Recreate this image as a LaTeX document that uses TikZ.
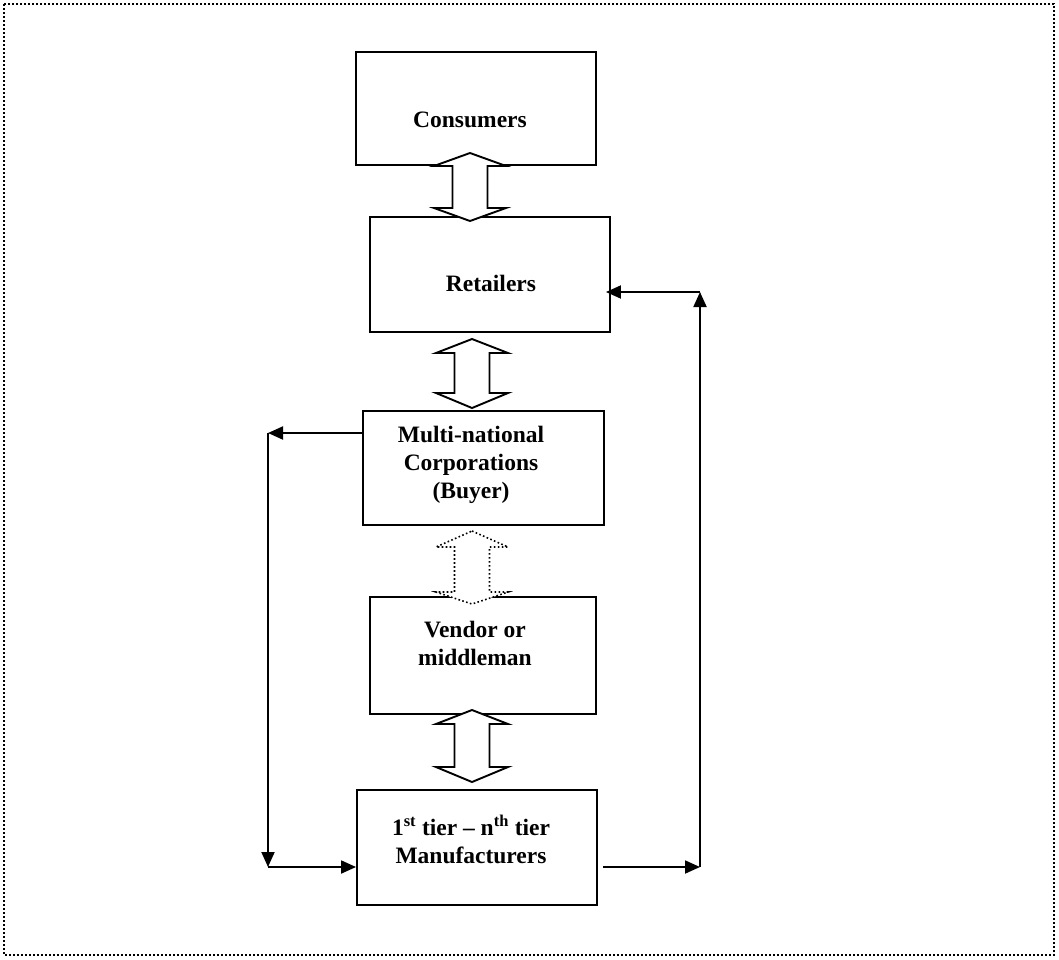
\documentclass[tikz,border=0pt]{standalone}
\usepackage{fontspec}
\setmainfont{Liberation Serif}
\usetikzlibrary{arrows.meta}
\newcommand\twoway[6][]{%
  \draw[dblarrow,#1] (#2,#3) -- (#2+36,#4) -- (#2+17.5,#4) -- (#2+17.5,#5) -- (#2+36,#5) -- (#2,#6)
    -- (#2-36,#5) -- (#2-17.5,#5) -- (#2-17.5,#4) -- (#2-36,#4) -- cycle;}
\tikzset{
  box/.style={draw, rectangle, line width=1.9pt, inner sep=0pt, fill=white},
  txt/.style={font=\fontsize{23.5}{28}\selectfont\bfseries, align=center, inner sep=0pt},
  dblarrow/.style={draw, line width=1.9pt, fill=white, line join=miter},
  dotarrow/.style={line width=1.6pt, dash pattern=on 1.6pt off 2.4pt},
  conn/.style={line width=1.9pt, -{Triangle[length=15pt,width=13pt]}},
  frame/.style={line width=1.6pt, dash pattern=on 2pt off 2pt}
}
\begin{document}
\begin{tikzpicture}[x=1pt,y=-1pt]
\useasboundingbox (0,0) rectangle (1059,959);
\draw[frame] (4,4) rectangle (1054,955);
% boxes
\node[box, minimum width=240pt, minimum height=113pt] (con) at (476,108.5) {};
\node[box, minimum width=240pt, minimum height=115pt] (ret) at (490,274.5) {};
\node[box, minimum width=241pt, minimum height=114pt] (mnc) at (483.5,468) {};
\node[box, minimum width=226pt, minimum height=117pt] (ven) at (483,655.5) {};
\node[box, minimum width=240pt, minimum height=115pt] (man) at (477,847.5) {};
% texts
\node[txt] (tcon) at (470,120) {Consumers};
\node[txt] (tret) at (491,283) {Retailers};
\node[txt] (tmnc) at (471,465) {Multi-national\\Corporations\\(Buyer)};
\node[txt] (tven) at (475,643) {Vendor or\\middleman};
\node[txt] (tman) at (471,839) {1\textsuperscript{st} tier -- n\textsuperscript{th} tier\\Manufacturers};
% double arrows
\twoway{470}{153}{166}{208}{221}
\twoway{472}{339}{353}{393}{408}
\twoway[draw=none]{472}{531}{547}{592}{604}
\twoway[draw=black, dotarrow, fill=none]{472}{531}{547}{592}{604}
\twoway{472}{710}{724}{767}{782}
% connectors left
\coordinate (L1) at (268,433);
\coordinate (L2) at (268,867);
\draw[conn] (mnc.west |- L1) -- (L1);
\draw[conn] (L1) -- (L2);
\draw[conn] (L2) -- (man.west |- L2);
% connectors right
\coordinate (R0) at (603,867);
\coordinate (R1) at (700,867);
\coordinate (R2) at (700,292);
\draw[conn] (R0) -- (R1);
\draw[conn] (R1) -- (R2);
\draw[conn] (R2) -- ([xshift=-5pt]ret.east |- R2);
\end{tikzpicture}
\end{document}
